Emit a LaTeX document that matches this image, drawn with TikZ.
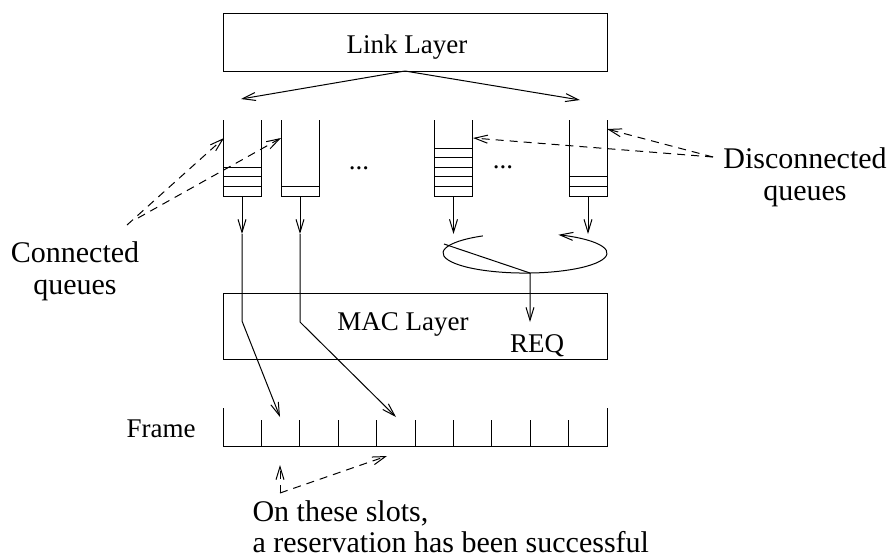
\documentclass[tikz,border=0pt]{standalone}
\usepackage{fontspec}
\setmainfont{Liberation Serif}
\usetikzlibrary{arrows.meta}

\begin{document}
\begin{tikzpicture}[
    x=0.5pt, y=-0.5pt, line width=0.5pt,
    layer/.style={rectangle, draw, minimum width=192pt, inner sep=0pt},
    lbl/.style={font=\fontsize{13.5}{16}\selectfont, inner sep=0pt, anchor=base},
    note/.style={font=\fontsize{15}{16}\selectfont, inner sep=0pt, align=center, anchor=base},
    arrow/.style={-{Straight Barb[length=6.5pt, width=4pt]}},
    hint/.style={arrow, dash pattern=on 4pt off 3pt}
]
\useasboundingbox (0,0) rectangle (890,559);

\node[layer, minimum height=29pt] (link) at (415,42) {};
\node[lbl] (linklbl) at (407,53) {Link Layer};
\node[layer, minimum height=33pt] (mac) at (415,326) {};
\node[lbl] (maclbl) at (403,330) {MAC Layer};
\node[lbl] (req) at (537,352) {REQ};
\node[lbl] (dots1) at (359,169) {...};
\node[lbl] (dots2) at (503,168) {...};
\node[lbl] (frame) at (161,437) {Frame};

\coordinate (top) at (405,71);
\coordinate (left) at (241,99);
\coordinate (right) at (580,100);
\draw[arrow] (top) -- (left);
\draw[arrow] (top) -- (right);

\foreach \x/\n [count=\i] in {242/3, 300/1, 453.5/5, 588/2} {
  \draw (\x-19,120) -- (\x-19,196) -- (\x+19,196) -- (\x+19,120);
  \foreach \k in {1,...,\n} \draw (\x-19,196-9.6*\k) -- (\x+19,196-9.6*\k);
  \coordinate (q\i) at (\x,196);
  \coordinate (d\i) at (\x,234);
}
\foreach \i in {1,...,4} \draw[arrow] (q\i) -- (d\i);

\coordinate (b1) at (242,321);
\coordinate (b2) at (300,322);
\coordinate (slot2) at (280,417);
\coordinate (slot5) at (396,417);
\draw[arrow] (d1) -- (b1) -- (slot2);
\draw[arrow] (d2) -- (b2) -- (slot5);

\draw (223,408) -- (223,446) -- (607,446) -- (607,408);
\foreach \k in {1,...,9} \draw (223+38.4*\k,420) -- (223+38.4*\k,446);

\coordinate (turn) at (482.8,235.9);
\draw[arrow] (turn) arc[start angle=239, end angle=-66, x radius=82, y radius=20];
\coordinate (sel) at (444,244);
\coordinate (pick) at (530,273);
\coordinate (reqtip) at (530,322);
\draw[arrow] (sel) -- (pick) -- (reqtip);

\node[note] (conn) at (75,294) {Connected\\queues};
\node[note] (disc) at (805,200) {Disconnected\\queues};
\coordinate (c1) at (127,225);
\coordinate (c2) at (138,218);
\coordinate (in1) at (224,138);
\coordinate (in2) at (281,138);
\draw[hint] (c1) -- (in1);
\draw[hint] (c2) -- (in2);
\coordinate (dc) at (713,157);
\coordinate (in3) at (473,138);
\coordinate (in4) at (607,129);
\draw[hint] (dc) -- (in3);
\draw[hint] (dc) -- (in4);

\coordinate (corner) at (280,493);
\coordinate (up) at (280,465);
\coordinate (slant) at (387,456);
\draw[hint] (corner) -- (up);
\draw[hint] (corner) -- (slant);
\node[note, font=\fontsize{15}{15.5}\selectfont, align=left, anchor=base west] (slots) at (252,552) {On these slots,\\a reservation has been successful};
\end{tikzpicture}
\end{document}
